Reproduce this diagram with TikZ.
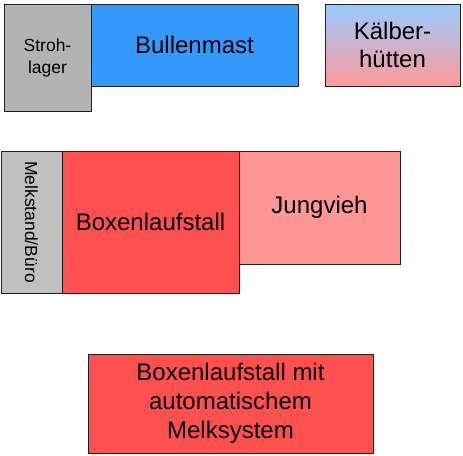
\documentclass[tikz,border=0pt]{standalone}
\usepackage{fontspec}
\setmainfont{Liberation Sans}
\definecolor{edge}{RGB}{32,32,32}
\definecolor{strohgray}{RGB}{179,179,179}
\definecolor{melkgray}{RGB}{192,192,192}
\definecolor{bullblue}{RGB}{51,153,255}
\definecolor{kblue}{RGB}{153,204,255}
\definecolor{kpink}{RGB}{255,153,153}
\definecolor{boxred}{RGB}{255,80,80}
\definecolor{jungpink}{RGB}{255,150,150}
\begin{document}
\begin{tikzpicture}[x=1pt,y=-1pt,
  room/.style={draw=edge, line width=1pt, inner sep=0pt, align=center,
    font=\fontsize{24}{29}\selectfont},
  smallroom/.style={room, font=\fontsize{17.5}{22}\selectfont}]
\useasboundingbox (0,0) rectangle (463,455);
\node[room, fill=bullblue, minimum width=207pt, minimum height=82pt] (bullen) at (194.5,45) {Bullenmast};
\node[smallroom, fill=strohgray, minimum width=87pt, minimum height=107pt] (stroh) at (47.5,57.5) {Stroh-\\lager};
\node[room, top color=kblue, bottom color=kpink, minimum width=135pt, minimum height=82pt,
  font=\fontsize{24}{28}\selectfont] (kaelber) at (392.5,45) {Kälber-\\hütten};
\node[room, fill=jungpink, minimum width=161pt, minimum height=113pt] (jung) at (319.5,207.5) {Jungvieh};
\node[room, fill=boxred, minimum width=177pt, minimum height=142pt] (boxen) at (150.5,222) {Boxenlaufstall};
\node[smallroom, fill=melkgray, rotate=-90, minimum width=142pt, minimum height=61pt] (melk) at (31.5,222) {Melkstand/Büro};
\node[room, fill=boxred, minimum width=285pt, minimum height=99pt] (ams) at (230.5,403.5) {Boxenlaufstall mit\\automatischem\hspace{0.3em}\\Melksystem};
\end{tikzpicture}
\end{document}
